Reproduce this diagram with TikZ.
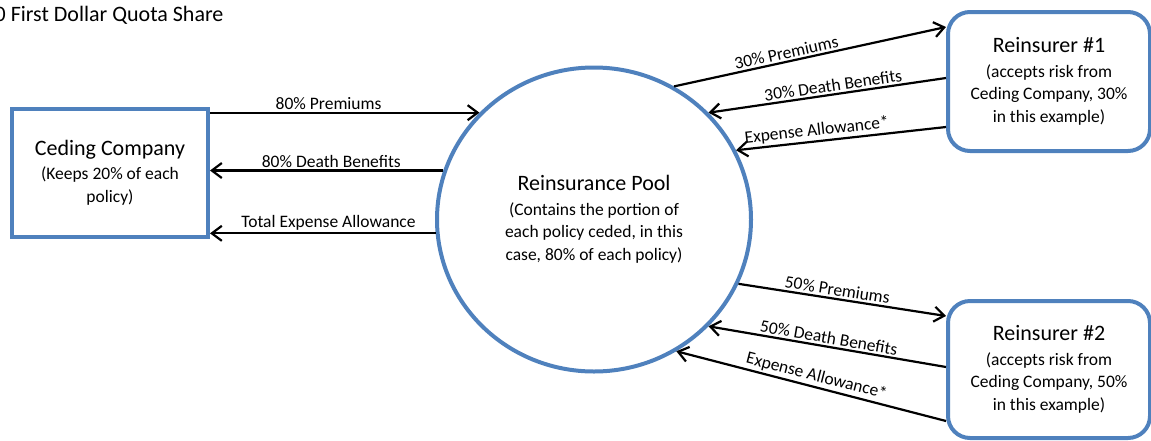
\documentclass[tikz,border=0pt]{standalone}
\usepackage{fontspec}
\setmainfont{Carlito}
\usetikzlibrary{arrows.meta,shapes.geometric}
\definecolor{boxblue}{HTML}{4F81BD}
\newcommand\ttlf{\fontsize{22}{25}\selectfont}
\newcommand\subf{\fontsize{17.5}{22.5}\selectfont}
\begin{document}
\begin{tikzpicture}[x=1pt,y=-1pt,
  box/.style={draw=boxblue, line width=4pt, fill=white, align=center, inner sep=4pt, font=\subf},
  flow/.style={draw=black, line width=2.2pt, -{Straight Barb[length=10pt,width=15pt]}},
  lbl/.style={font=\subf, sloped, above, inner sep=2pt}]
\useasboundingbox (0,0) rectangle (1151,440);
\node[anchor=base east, font=\ttlf] (title) at (227,21) {0 First Dollar Quota Share};

\node[box, minimum width=196pt, minimum height=128pt] (cede) at (110,172.5)
  {{\ttlf Ceding Company}\\[2pt] (Keeps 20\% of each\\ policy)};
\node[box, ellipse, minimum width=314pt, minimum height=304pt] (pool) at (594,219.5)
  {{\ttlf Reinsurance Pool}\\[2pt] (Contains the portion of\\ each policy ceded, in this\\ case, 80\% of each policy)};
\node[box, rounded corners=22pt, minimum width=202pt, minimum height=139pt] (r1) at (1049,81.5)
  {{\ttlf Reinsurer \#1}\\[2pt] (accepts risk from\\ Ceding Company, 30\%\\ in this example)};
\node[box, rounded corners=22pt, minimum width=202pt, minimum height=137pt] (r2) at (1049,369.5)
  {{\ttlf Reinsurer \#2}\\[2pt] (accepts risk from\\ Ceding Company, 50\%\\ in this example)};

% Ceding company <-> pool
\draw[flow] (cede.east |- pool.137) -- node[lbl, pos=0.44] {80\% Premiums} (pool.137);
\draw[flow] (pool.162.4) -- node[lbl, pos=0.48] {80\% Death Benefits} (pool.162.4 -| cede.east);
\draw[flow] (pool.185.2) -- node[lbl, pos=0.475] {Total Expense Allowance} (pool.185.2 -| cede.east);

% Pool <-> Reinsurer #1
\draw[flow] (pool.59.9) -- node[lbl, pos=0.42] {30\% Premiums} ([yshift=-17pt]r1.north west);
\draw[flow] ([yshift=-68pt]r1.north west) -- node[lbl, pos=0.47] {30\% Death Benefits} (pool.43.3);
\draw[flow] ([yshift=-117pt]r1.north west) -- node[lbl, pos=0.61] {Expense Allowance*} (pool.26.9);

% Pool <-> Reinsurer #2
\draw[flow] (pool.-24.5) -- node[lbl, pos=0.47] {50\% Premiums} ([yshift=-17pt]r2.north west);
\draw[flow] ([yshift=-68pt]r2.north west) -- node[lbl, pos=0.5] {50\% Death Benefits} (pool.-43.3);
\draw[flow] ([yshift=-122pt]r2.north west) -- node[lbl, pos=0.49] {Expense Allowance*} (pool.-58.2);
\end{tikzpicture}
\end{document}
